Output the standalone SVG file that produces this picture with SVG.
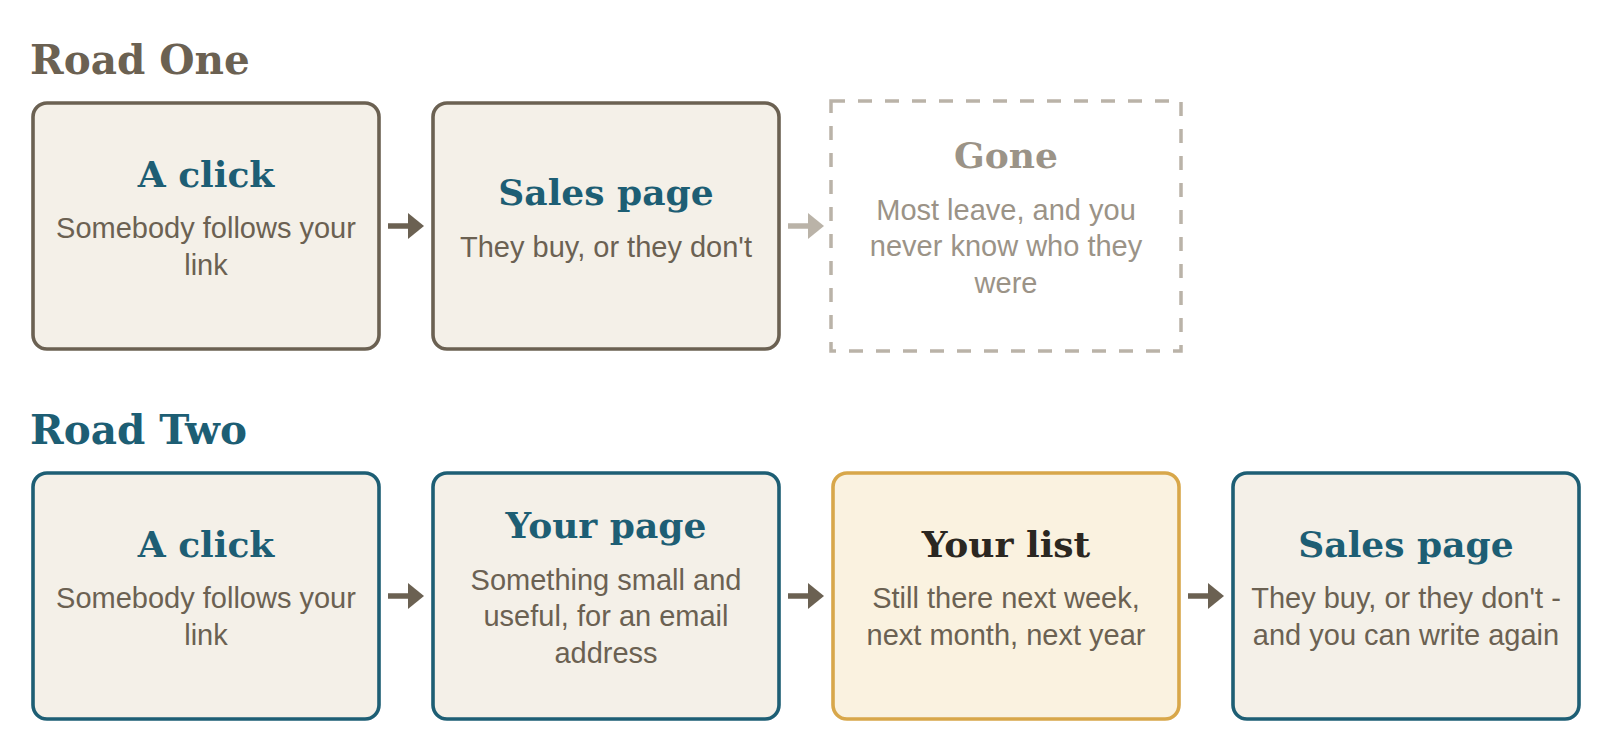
<svg xmlns="http://www.w3.org/2000/svg" width="1610" height="750" viewBox="0 0 1610 750">
<defs>
<style>
.heading{font-family:"DejaVu Serif","Liberation Serif",serif;font-weight:bold;font-size:40.5px}
.title{font-family:"DejaVu Serif","Liberation Serif",serif;font-weight:bold;font-size:36px;text-anchor:middle;fill:#1d5e74}
.body{font-family:"Liberation Sans",Arial,sans-serif;font-size:29px;text-anchor:middle;fill:#6b6152}
.box{fill:#f4f0e8;stroke-width:3.6}
.brown{stroke:#6b6152}
.blue{stroke:#1d5e74}
.arrow{stroke-width:5.5;fill:none}
</style>
<marker id="ah" viewBox="0 0 16 26" refX="0" refY="13" markerWidth="16" markerHeight="26" markerUnits="userSpaceOnUse" orient="auto">
<path d="M0,0 L16,13 L0,26 Z" fill="#6b6152"/>
</marker>
<marker id="ahLight" viewBox="0 0 16 26" refX="0" refY="13" markerWidth="16" markerHeight="26" markerUnits="userSpaceOnUse" orient="auto">
<path d="M0,0 L16,13 L0,26 Z" fill="#bab3a8"/>
</marker>
</defs>
<rect width="1610" height="750" fill="#ffffff"/>

<text class="heading" x="30" y="74" fill="#6b6152">Road One</text>
<text class="heading" x="30" y="444" fill="#1d5e74">Road Two</text>

<g id="connectors">
<line class="arrow" x1="388" y1="226" x2="408" y2="226" stroke="#6b6152" marker-end="url(#ah)"/>
<line class="arrow" x1="788" y1="226" x2="808" y2="226" stroke="#bab3a8" marker-end="url(#ahLight)"/>
<line class="arrow" x1="388" y1="596" x2="408" y2="596" stroke="#6b6152" marker-end="url(#ah)"/>
<line class="arrow" x1="788" y1="596" x2="808" y2="596" stroke="#6b6152" marker-end="url(#ah)"/>
<line class="arrow" x1="1188" y1="596" x2="1208" y2="596" stroke="#6b6152" marker-end="url(#ah)"/>
</g>

<g id="r1-click">
<rect class="box brown" x="33" y="103" width="346" height="246" rx="14"/>
<text class="title" x="206" y="186.75">A click</text>
<text class="body" x="206" y="238.25">Somebody follows your</text>
<text class="body" x="206" y="274.75">link</text>
</g>

<g id="r1-sales">
<rect class="box brown" x="433" y="103" width="346" height="246" rx="14"/>
<text class="title" x="606" y="205">Sales page</text>
<text class="body" x="606" y="256.5">They buy, or they don't</text>
</g>

<g id="r1-gone">
<rect x="831" y="101" width="350" height="250" fill="none" stroke="#bab3a8" stroke-width="3.5" stroke-dasharray="14 13"/>
<text class="title" x="1006" y="167.5" style="fill:#9b9387">Gone</text>
<text class="body" x="1006" y="219.5" style="fill:#9b9387">Most leave, and you</text>
<text class="body" x="1006" y="256" style="fill:#9b9387">never know who they</text>
<text class="body" x="1006" y="292.5" style="fill:#9b9387">were</text>
</g>

<g id="r2-click">
<rect class="box blue" x="33" y="473" width="346" height="246" rx="14"/>
<text class="title" x="206" y="556.75">A click</text>
<text class="body" x="206" y="608.25">Somebody follows your</text>
<text class="body" x="206" y="644.75">link</text>
</g>

<g id="r2-yourpage">
<rect class="box blue" x="433" y="473" width="346" height="246" rx="14"/>
<text class="title" x="606" y="537.5">Your page</text>
<text class="body" x="606" y="589.5">Something small and</text>
<text class="body" x="606" y="626">useful, for an email</text>
<text class="body" x="606" y="662.5">address</text>
</g>

<g id="r2-yourlist">
<rect x="833" y="473" width="346" height="246" rx="14" fill="#faf2e0" stroke="#d8a74a" stroke-width="3.6"/>
<text class="title" x="1006" y="556.75" style="fill:#2b2721">Your list</text>
<text class="body" x="1006" y="608.25">Still there next week,</text>
<text class="body" x="1006" y="644.75">next month, next year</text>
</g>

<g id="r2-sales">
<rect class="box blue" x="1233" y="473" width="346" height="246" rx="14"/>
<text class="title" x="1406" y="556.75">Sales page</text>
<text class="body" x="1406" y="608.25">They buy, or they don't -</text>
<text class="body" x="1406" y="644.75">and you can write again</text>
</g>
</svg>
